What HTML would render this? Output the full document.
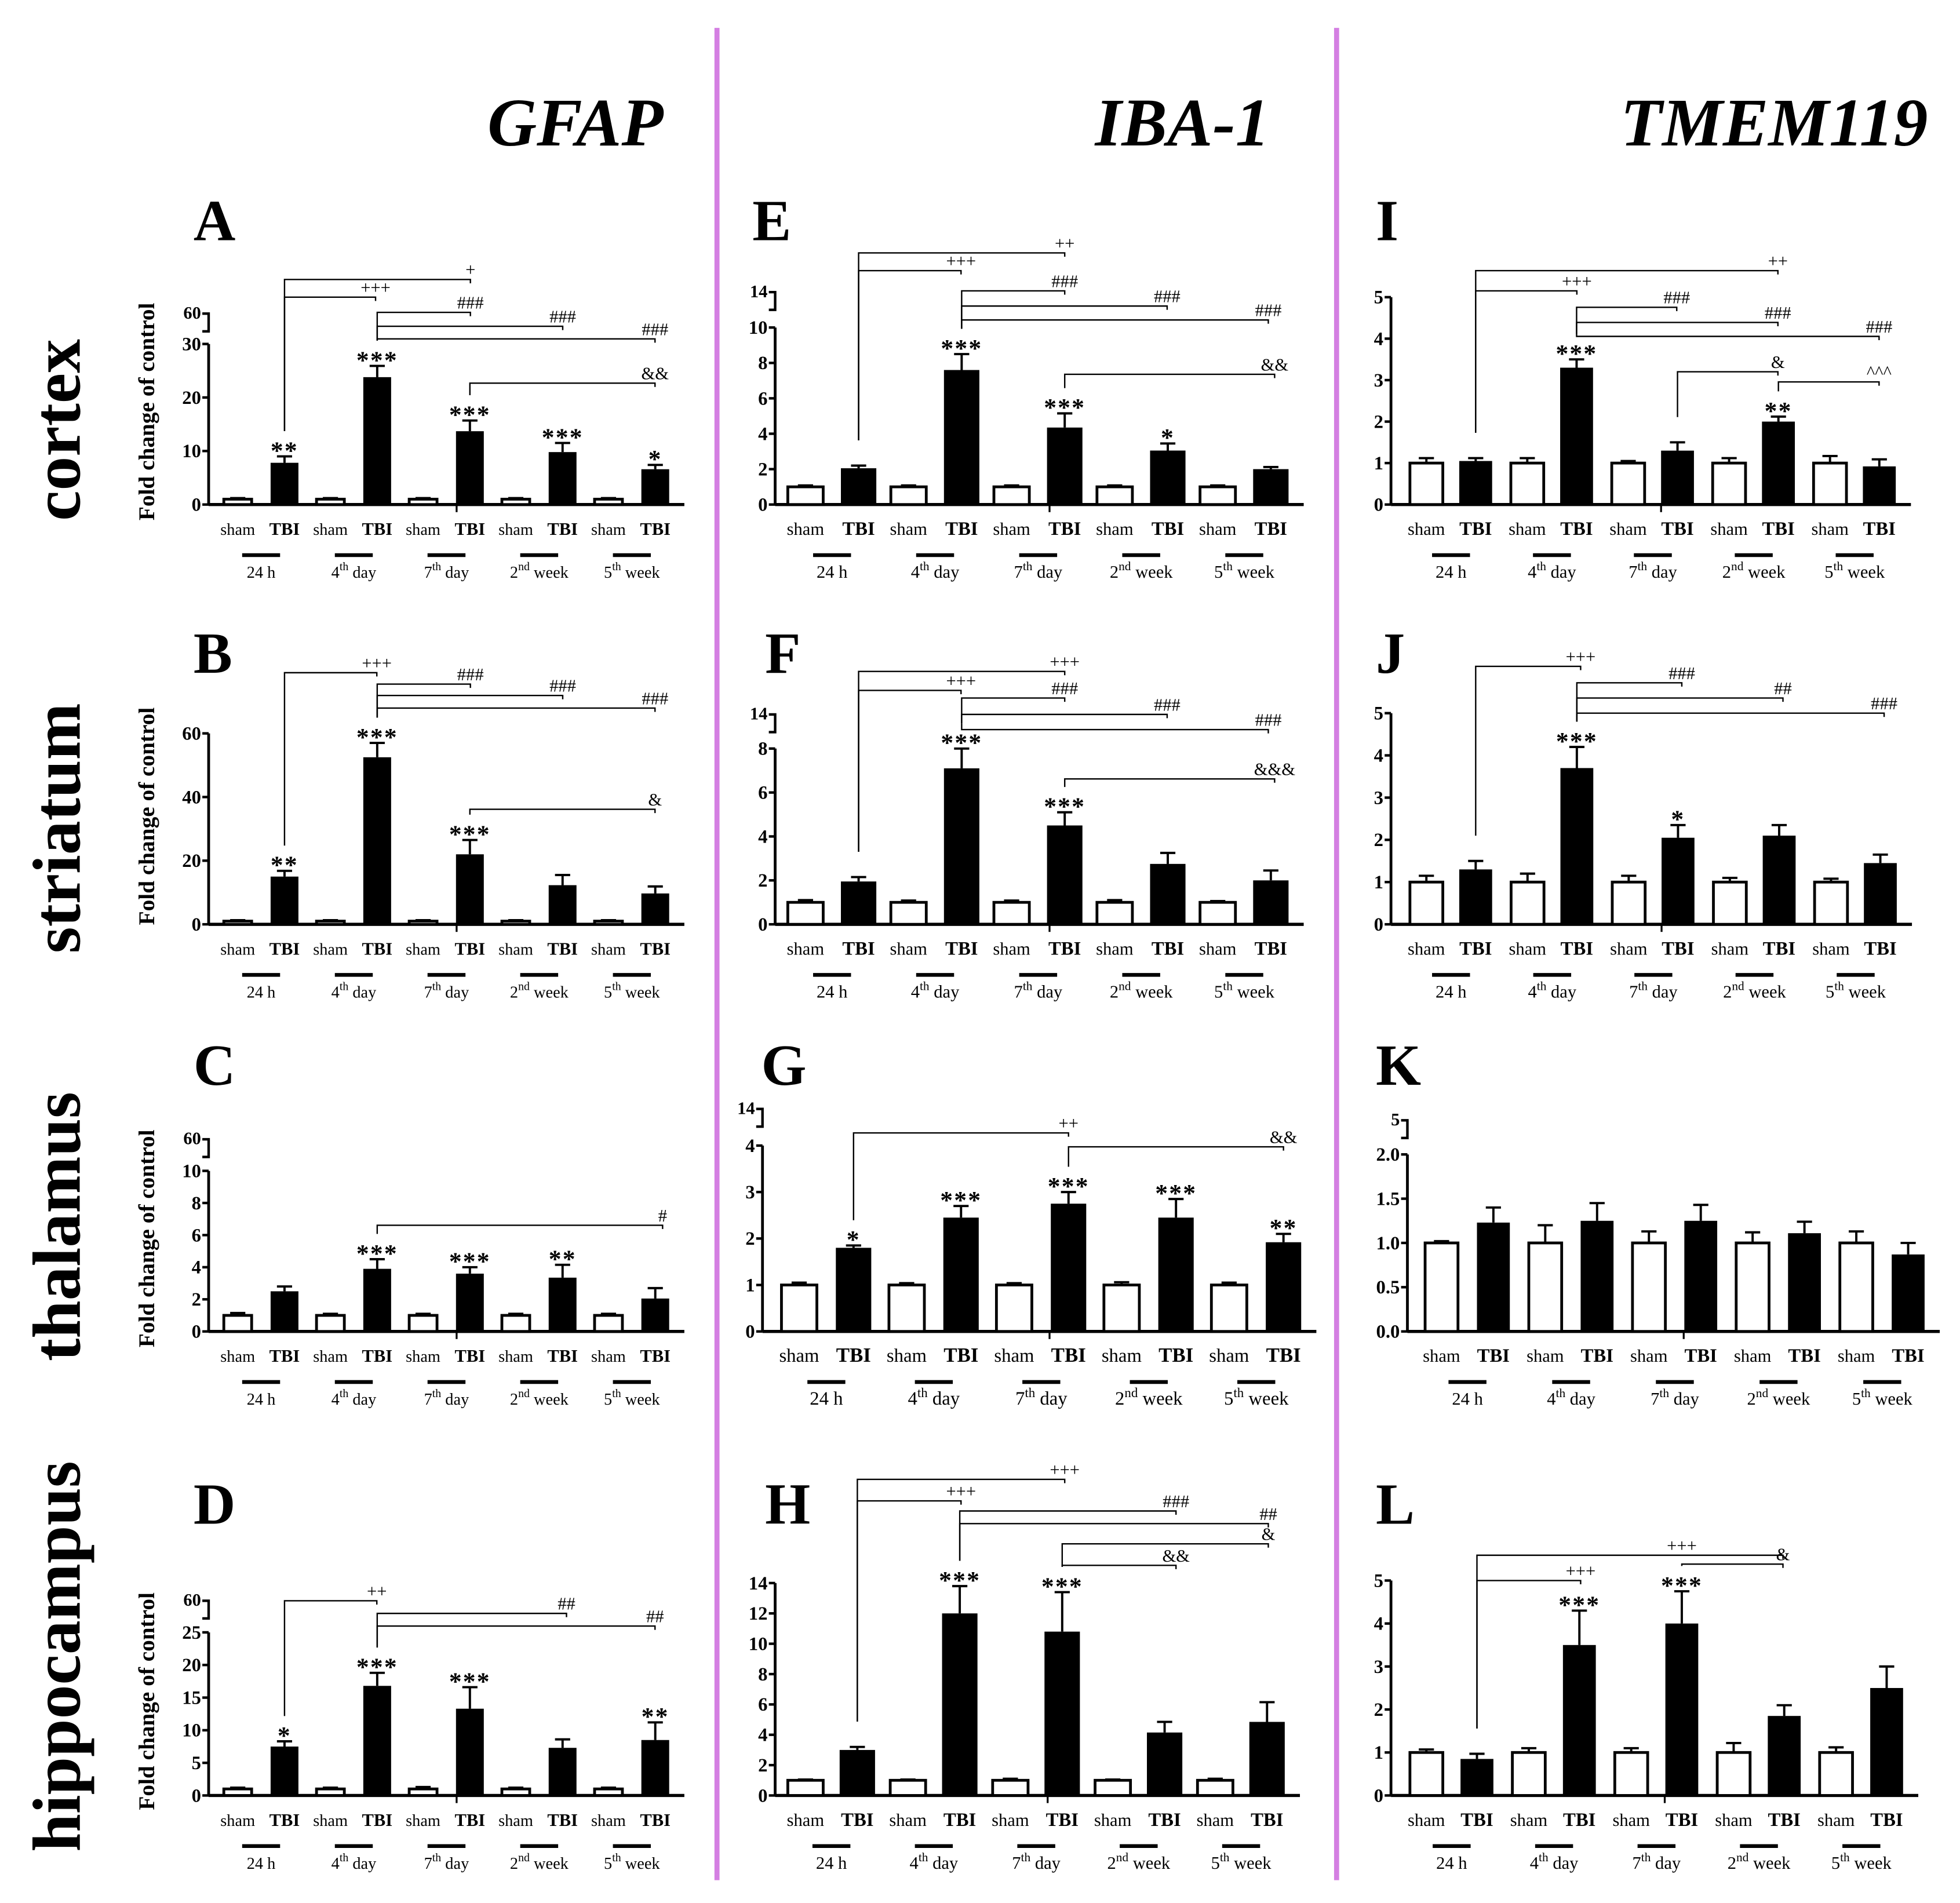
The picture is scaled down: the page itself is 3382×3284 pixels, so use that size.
<!DOCTYPE html>
<html><head><meta charset="utf-8"><style>
html,body{margin:0;padding:0;background:#fff}
svg{display:block}
text{font-family:"Liberation Serif",serif}
</style></head><body>
<svg id="fig" width="3382" height="3284" viewBox="0 0 1550 1505" xmlns="http://www.w3.org/2000/svg">
<rect width="1550" height="1505" fill="#fff"/>
<line x1="567" y1="22" x2="567" y2="1487" stroke="#d47fe2" stroke-width="4"/>
<line x1="1057" y1="22" x2="1057" y2="1487" stroke="#d47fe2" stroke-width="4"/>
<text x="455" y="115" font-size="54" font-weight="bold" font-style="italic" text-anchor="middle">GFAP</text>
<text x="935" y="115" font-size="54" font-weight="bold" font-style="italic" text-anchor="middle">IBA-1</text>
<text x="1403" y="115" font-size="54" font-weight="bold" font-style="italic" text-anchor="middle">TMEM119</text>
<text transform="translate(63,340) rotate(-90)" font-size="54" font-weight="bold" text-anchor="middle">cortex</text>
<text transform="translate(63,655) rotate(-90)" font-size="54" font-weight="bold" text-anchor="middle">striatum</text>
<text transform="translate(63,970) rotate(-90)" font-size="54" font-weight="bold" text-anchor="middle">thalamus</text>
<text transform="translate(63,1310) rotate(-90)" font-size="54" font-weight="bold" text-anchor="middle">hippocampus</text>
</svg>
<script>
const groupLabels = [["24 h","",""],["4","th"," day"],["7","th"," day"],["2","nd"," week"],["5","th"," week"]];
// data arrays
const shamA=[1,1,1,1,1], tbiA=[7.8,23.8,13.7,9.8,6.6], shamErrA=[0.2,0.2,0.2,0.2,0.2], tbiErrA=[1.2,2.1,2.0,1.7,0.8], starsA=["**","***","***","***","*"];
const shamB=[1,1,1,1,1], tbiB=[15,52.5,22,12.3,9.7], shamErrB=[0.3,0.3,0.3,0.3,0.3], tbiErrB=[1.8,4.5,4.5,3.2,2.2], starsB=["**","***","***","",""];
const shamC=[1,1,1,1,1], tbiC=[2.5,3.9,3.6,3.35,2.05], shamErrC=[0.15,0.1,0.1,0.1,0.1], tbiErrC=[0.3,0.6,0.4,0.8,0.65], starsC=["","***","***","**",""];
const shamD=[1,1,1,1,1], tbiD=[7.5,16.8,13.3,7.3,8.5], shamErrD=[0.2,0.2,0.3,0.2,0.2], tbiErrD=[0.8,2.0,3.3,1.3,2.7], starsD=["*","***","***","","**"];
const shamE=[1,1,1,1,1], tbiE=[2.05,7.6,4.35,3.05,2.0], shamErrE=[0.08,0.08,0.08,0.08,0.08], tbiErrE=[0.15,0.9,0.8,0.4,0.12], starsE=["","***","***","*",""];
const shamF=[1,1,1,1,1], tbiF=[1.95,7.1,4.5,2.75,2.0], shamErrF=[0.1,0.08,0.08,0.1,0.06], tbiErrF=[0.2,0.9,0.6,0.5,0.45], starsF=["","***","***","",""];
const shamG=[1,1,1,1,1], tbiG=[1.8,2.45,2.75,2.45,1.92], shamErrG=[0.05,0.04,0.04,0.06,0.05], tbiErrG=[0.05,0.25,0.25,0.4,0.18], starsG=["*","***","***","***","**"];
const shamH=[1,1,1,1,1], tbiH=[3.0,12.0,10.8,4.15,4.85], shamErrH=[0.05,0.05,0.1,0.05,0.1], tbiErrH=[0.2,1.8,2.6,0.7,1.3], starsH=["","***","***","",""];
const shamI=[1,1,1,1,1], tbiI=[1.05,3.3,1.3,2.0,0.92], shamErrI=[0.12,0.12,0.05,0.12,0.17], tbiErrI=[0.07,0.2,0.2,0.12,0.17], starsI=["","***","","**",""];
const shamJ=[1,1,1,1,1], tbiJ=[1.3,3.7,2.05,2.1,1.45], shamErrJ=[0.15,0.2,0.15,0.1,0.08], tbiErrJ=[0.2,0.5,0.3,0.25,0.2], starsJ=["","***","*","",""];
const shamK=[1,1,1,1,1], tbiK=[1.23,1.25,1.25,1.11,0.87], shamErrK=[0.02,0.2,0.13,0.12,0.13], tbiErrK=[0.17,0.2,0.18,0.13,0.13], starsK=["","","","",""];
const shamL=[1,1,1,1,1], tbiL=[0.85,3.5,4.0,1.85,2.5], shamErrL=[0.07,0.1,0.1,0.22,0.12], tbiErrL=[0.12,0.8,0.75,0.25,0.5], starsL=["","***","***","",""];
const ticksA=[0,10,20,30], ticksB=[0,20,40,60], ticksC=[0,2,4,6,8,10], ticksD=[0,5,10,15,20,25];
const ticksE=[0,2,4,6,8,10], ticksF=[0,2,4,6,8], ticksG=[0,1,2,3,4], ticksH=[0,2,4,6,8,10,12,14];
const ticksI=[0,1,2,3,4,5], ticksJ=[0,1,2,3,4,5], ticksK=[0,0.5,1,1.5,2], ticksL=[0,1,2,3,4,5];

const NS="http://www.w3.org/2000/svg";
const svg=document.getElementById('fig');
function el(tag,attrs,parent){const e=document.createElementNS(NS,tag);for(const k in attrs)e.setAttribute(k,attrs[k]);(parent||svg).appendChild(e);return e;}

const panels=[
 {id:"a",L:"A",lx:153,ly:190,ax:165,base:399,top:272,max:30,ticks:ticksA,brk:"60",brkY:248,s0:188,t0:225,step:73.3,bw:22,sham:shamA,tbi:tbiA,se:shamErrA,te:tbiErrA,st:starsA,fs:13,ytitle:true,
  br:[[0,235,297,"+++"],[0,221,372,"+"],[1,247,372,"###"],[1,258,445,"###"],[1,268,518,"###"],[2,303,518,"&&"]]},
 {id:"b",L:"B",lx:153,ly:532,ax:165,base:731,top:580,max:60,ticks:ticksB,s0:188,t0:225,step:73.3,bw:22,sham:shamB,tbi:tbiB,se:shamErrB,te:tbiErrB,st:starsB,fs:13,ytitle:true,
  br:[[0,532,298,"+++"],[1,541,372,"###"],[1,550,445,"###"],[1,560,518,"###"],[2,640,518,"&"]]},
 {id:"c",L:"C",lx:153,ly:858,ax:165,base:1053,top:926,max:10,ticks:ticksC,brk:"60",brkY:901,s0:188,t0:225,step:73.3,bw:22,sham:shamC,tbi:tbiC,se:shamErrC,te:tbiErrC,st:starsC,fs:13,ytitle:true,
  br:[[1,969,524,"#"]]},
 {id:"d",L:"D",lx:153,ly:1205,ax:165,base:1420,top:1291,max:25,ticks:ticksD,brk:"60",brkY:1266,s0:188,t0:225,step:73.3,bw:22,sham:shamD,tbi:tbiD,se:shamErrD,te:tbiErrD,st:starsD,fs:13,ytitle:true,
  br:[[0,1266,298,"++"],[1,1276,448,"##"],[1,1286,518,"##"]]},
 {id:"e",L:"E",lx:595,ly:190,ax:613,base:399,top:259,max:10,ticks:ticksE,brk:"14",brkY:231,s0:637,t0:679,step:81.5,bw:28,sham:shamE,tbi:tbiE,se:shamErrE,te:tbiErrE,st:starsE,fs:14,
  br:[[0,214,760,"+++"],[0,200,842,"++"],[1,230,842,"###"],[1,242,923,"###"],[1,253,1003,"###"],[2,296,1008,"&&"]]},
 {id:"f",L:"F",lx:605,ly:532,ax:613,base:731,top:592,max:8,ticks:ticksF,brk:"14",brkY:565,s0:637,t0:679,step:81.5,bw:28,sham:shamF,tbi:tbiF,se:shamErrF,te:tbiErrF,st:starsF,fs:14,
  br:[[0,546,760,"+++"],[0,531,842,"+++"],[1,552,842,"###"],[1,565,923,"###"],[1,577,1003,"###"],[2,616,1008,"&&&"]]},
 {id:"g",L:"G",lx:602,ly:858,ax:603,base:1053,top:906,max:4,ticks:ticksG,brk:"14",brkY:877,s0:632,t0:675,step:85,bw:28,sham:shamG,tbi:tbiG,se:shamErrG,te:tbiErrG,st:starsG,fs:15,
  br:[[0,896,845,"++"],[2,907,1015,"&&"]]},
 {id:"h",L:"H",lx:605,ly:1205,ax:613,base:1420,top:1252,max:14,ticks:ticksH,s0:637,t0:678,step:81,bw:28,sham:shamH,tbi:tbiH,se:shamErrH,te:tbiErrH,st:starsH,fs:14,
  br:[[0,1187,760,"+++"],[0,1170,842,"+++"],[1,1195,930,"###"],[1,1205,1003,"##"],[2,1221,1003,"&"],[2,1238,930,"&&"]]},
 {id:"i",L:"I",lx:1088,ly:190,ax:1100,base:399,top:235,max:5,ticks:ticksI,s0:1128,t0:1167,step:79.8,bw:26,sham:shamI,tbi:tbiI,se:shamErrI,te:tbiErrI,st:starsI,fs:14,
  br:[[0,230,1247,"+++"],[0,214,1406,"++"],[1,243,1326,"###"],[1,255,1406,"###"],[1,266,1486,"###"],[2,294,1406,"&"],[3,302,1486,"^^^"]]},
 {id:"j",L:"J",lx:1088,ly:532,ax:1100,base:731,top:564,max:5,ticks:ticksJ,s0:1128,t0:1167,step:80,bw:26,sham:shamJ,tbi:tbiJ,se:shamErrJ,te:tbiErrJ,st:starsJ,fs:14,
  br:[[0,527,1250,"+++"],[1,540,1330,"###"],[1,552,1410,"##"],[1,564,1490,"###"]]},
 {id:"k",L:"K",lx:1088,ly:858,ax:1113,base:1053,top:913,max:2,ticks:ticksK,brk:"5",brkY:886,s0:1140,t0:1181,step:82,bw:26,sham:shamK,tbi:tbiK,se:shamErrK,te:tbiErrK,st:starsK,fs:14,br:[]},
 {id:"l",L:"L",lx:1088,ly:1205,ax:1100,base:1420,top:1250,max:5,ticks:ticksL,s0:1128,t0:1168,step:81,bw:26,sham:shamL,tbi:tbiL,se:shamErrL,te:tbiErrL,st:starsL,fs:14,
  br:[[0,1250,1250,"+++"],[0,1230,1410,"+++",1330],[2,1237,1410,"&"]]}
];

panels.forEach(p=>{
  const g=el('g',{});
  
  
  const y=v=>p.base-(v/p.max)*(p.base-p.top);
  const lt=el('text',{x:p.lx,y:p.ly,'font-size':46,'font-weight':'bold'},g);
  lt.textContent=p.L;
  
  
  const right=p.t0+4*p.step+p.bw/2+12;
  const ya=el('line',{x1:p.ax,y1:p.base,x2:p.ax,y2:p.top,stroke:'#000','stroke-width':2.2},g);
  
  
  const xa=el('line',{x1:p.ax,y1:p.base,x2:right,y2:p.base,stroke:'#000','stroke-width':2.5},g);
  
  
  el('line',{x1:(p.ax+right)/2+8,y1:p.base,x2:(p.ax+right)/2+8,y2:p.base+6,stroke:'#000','stroke-width':1.5},g);
  p.ticks.forEach(t=>{
    const yy=y(t);
    el('line',{x1:p.ax-5,y1:yy,x2:p.ax,y2:yy,stroke:'#000','stroke-width':2},g);
    const tx=el('text',{x:p.ax-6,y:yy+5,'font-size':15,'font-weight':'bold','text-anchor':'end'},g);
    tx.textContent = p.max<=2 ? t.toFixed(1) : String(t);
    
    
  });
  if(p.brk){
    el('path',{d:`M${p.ax-5} ${p.brkY} H${p.ax} V${p.brkY+14} H${p.ax-5}`,fill:'none',stroke:'#000','stroke-width':2},g);
    const bt=el('text',{x:p.ax-6,y:p.brkY+4,'font-size':14,'font-weight':'bold','text-anchor':'end'},g);
    bt.textContent=p.brk;
    
    
  }
  if(p.ytitle){
    const yt=el('text',{transform:`translate(122,${(p.base+p.top)/2-10}) rotate(-90)`,'font-size':18,'font-weight':'bold','text-anchor':'middle'},g);
    yt.textContent='Fold change of control';
    
    
  }
  const tops=[];
  for(let i=0;i<5;i++){
    const xs=p.s0+i*p.step, xt=p.t0+i*p.step;
    const sb=el('rect',{x:xs-p.bw/2,y:y(p.sham[i]),width:p.bw,height:p.base-y(p.sham[i]),fill:'#fff',stroke:'#000','stroke-width':2.2},g);
    
    
    const se=y(p.sham[i]+p.se[i]);
    el('path',{d:`M${xs} ${y(p.sham[i])} V${se} M${xs-6} ${se} H${xs+6}`,stroke:'#000','stroke-width':1.8,fill:'none'},g);
    const tb=el('rect',{x:xt-p.bw/2,y:y(p.tbi[i]),width:p.bw,height:p.base-y(p.tbi[i]),fill:'#000'},g);
    
    
    const te=y(p.tbi[i]+p.te[i]);
    tops.push(te);
    el('path',{d:`M${xt} ${y(p.tbi[i])} V${te} M${xt-6} ${te} H${xt+6}`,stroke:'#000','stroke-width':1.8,fill:'none'},g);
    if(p.st[i]){
      const s=el('text',{x:xt,y:te+2,'font-size':20,'font-weight':'bold','text-anchor':'middle','letter-spacing':'1'},g);
      s.textContent=p.st[i];
      
      
    }
    const l1=el('text',{x:xs,y:p.base+24,'font-size':p.fs,'text-anchor':'middle'},g);
    l1.textContent='sham';
    
    
    const l2=el('text',{x:xt,y:p.base+24,'font-size':p.fs+1,'font-weight':'bold','text-anchor':'middle'},g);
    l2.textContent='TBI';
    
    
    const cx=(xs+xt)/2;
    el('line',{x1:cx-15,y1:p.base+40,x2:cx+15,y2:p.base+40,stroke:'#000','stroke-width':3},g);
    const gl=el('text',{x:cx,y:p.base+58,'font-size':p.fs,'text-anchor':'middle'},g);
    
    
    const gg=groupLabels[i];
    const t1=el('tspan',{},gl); t1.textContent=gg[0];
    if(gg[1]){const t2=el('tspan',{dy:-6,'font-size':p.fs*0.7},gl);t2.textContent=gg[1];const t3=el('tspan',{dy:6},gl);t3.textContent=gg[2];}
  }
  p.br.forEach(b=>{
    const x1=p.t0+b[0]*p.step, yl=b[1], x2=b[2];
    const pth=el('path',{d:`M${x1} ${tops[b[0]]-20} V${yl} H${x2} V${yl+3}`,fill:'none',stroke:'#000','stroke-width':1.1},g);
    
    
    const bl=el('text',{x:(b[4]||x2),y:yl-3,'font-size':14,'text-anchor':'middle'},g);
    bl.textContent=b[3];
    
    
  });
});
</script>
</body></html>
